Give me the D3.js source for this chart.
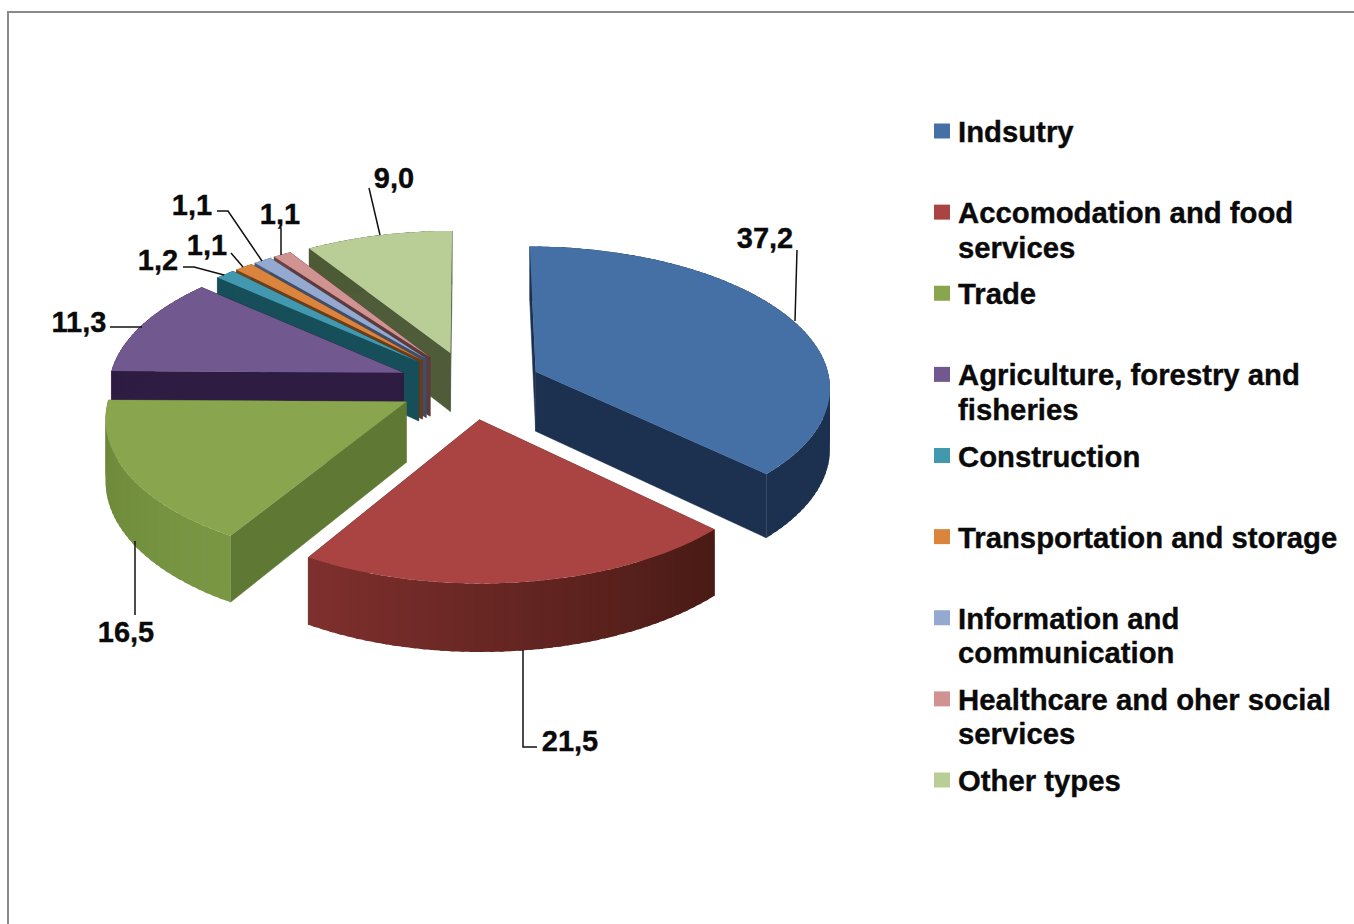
<!DOCTYPE html>
<html>
<head>
<meta charset="utf-8">
<script src="https://cdn.jsdelivr.net/npm/d3@7"></script>
<style>
  html, body { margin: 0; padding: 0; background: #fff; }
  svg { display: block; }
  text { font-family: "Liberation Sans", Arial, sans-serif; font-weight: bold; fill: #0a0a0a; stroke: #0a0a0a; stroke-width: 0.35px; }
</style>
</head>
<body>
<svg id="chart" width="1354" height="924"></svg>
<script>
const categories = ["Indsutry", "Accomodation and food services", "Trade", "Agriculture, forestry and fisheries",
  "Construction", "Transportation and storage", "Information and communication", "Healthcare and oher social services", "Other types"];
const values = [37.2, 21.5, 16.5, 11.3, 1.2, 1.1, 1.1, 1.1, 9.0];
const valueLabels = ["37,2", "21,5", "16,5", "11,3", "1,2", "1,1", "1,1", "1,1", "9,0"];

const topColors = ["#4470a6", "#aa4442", "#89a54e", "#71588f", "#4198af", "#db843d", "#93a9cf", "#d19392", "#b9cd96"];
const wallLeft = ["#1c3050", "#7f302e", "#6a8638", "#2e1c42", "#164e5a", "#7a4418", "#4a5a78", "#6d4342", "#4d5a36"];
const wallRight = ["#1c3050", "#491a15", "#7a9844", "#2e1c42", "#164e5a", "#7a4418", "#4a5a78", "#6d4342", "#4d5a36"];
const sideColors = ["#1c3050", "#5a1f1b", "#5f7833", "#2e1c42", "#164e5a", "#6b3c16", "#3f4e6a", "#5e3a3a", "#4f5c39"];

// label centre and leader polyline for each slice
const labelCenters = [[765, 238], [570, 741], [126, 632], [79, 322], [158, 260], [207, 245], [192, 205], [280, 214], [394, 178]];
const leaders = [
  [[797, 250], [795, 321]],
  [[537, 747], [523, 747], [523, 650]],
  [[135, 615], [135, 541]],
  [[110, 327], [142, 327]],
  [[183, 267], [194, 267], [224, 275]],
  [[231, 253], [243, 267]],
  [[217, 211], [228, 211], [262, 261]],
  [[281, 228], [281, 255]],
  [[369, 188], [380, 235]]
];

const svg = d3.select("#chart");

// frame
svg.append("path")
  .attr("d", "M8,924V12H1354")
  .attr("fill", "none")
  .attr("stroke", "#8a8a8a")
  .attr("stroke-width", 2);

const cx = 470, cy = 385,
      radius = 295, explode = 72, depth = 60,
      tilt = 0.475, focal = 2970;

// model x,y on the pie plane, z below it -> screen
function project(x, y, z) {
  const s = focal / (focal + y);
  return [cx + x * s, cy - tilt * y * s + z * s];
}

const pie = d3.pie().sort(null).value(d => d)
  .startAngle(0).endAngle(2 * Math.PI);
const arcs = pie(values);
const line = d3.line();

arcs.forEach((d, i) => {
  d.index = i;
  d.mid = (d.startAngle + d.endAngle) / 2;
  d.ox = explode * Math.sin(d.mid);
  d.oy = explode * Math.cos(d.mid);
});

function rimPoint(d, a, z) {
  return project(d.ox + radius * Math.sin(a), d.oy + radius * Math.cos(a), z);
}
function anglesOf(d) {
  const n = Math.max(2, Math.ceil((d.endAngle - d.startAngle) / 0.03));
  return d3.range(n + 1).map(k => d.startAngle + (d.endAngle - d.startAngle) * k / n);
}

const g = svg.append("g");

// back slices first
const order = arcs.slice().sort((a, b) => b.oy - a.oy);

order.forEach(d => {
  const i = d.index;
  const apexTop = project(d.ox, d.oy, 0);
  const apexBottom = project(d.ox, d.oy, depth);
  const slice = g.append("g");

  // radial walls
  [d.startAngle, d.endAngle].forEach(a => {
    slice.append("path")
      .attr("d", line([apexTop, rimPoint(d, a, 0), rimPoint(d, a, depth), apexBottom]) + "Z")
      .attr("fill", sideColors[i])
      .attr("stroke", sideColors[i])
      .attr("stroke-width", 0.5);
  });

  // outer wall, as strips so the shading runs along it. Each strip overlaps
  // the next one so no seams show
  const angles = anglesOf(d);
  const shade = d3.scaleLinear()
    .domain([d.startAngle, d.endAngle])
    .range(Math.cos(d.mid) < 0 ? [wallRight[i], wallLeft[i]] : [wallLeft[i], wallRight[i]]);
  const step = angles[1] - angles[0];
  d3.pairs(angles).forEach(([a0, a1]) => {
    const a2 = Math.min(a1 + step * 0.5, d.endAngle);
    slice.append("path")
      .attr("d", line([rimPoint(d, a0, 0), rimPoint(d, a2, 0), rimPoint(d, a2, depth), rimPoint(d, a0, depth)]) + "Z")
      .attr("fill", shade((a0 + a1) / 2));
  });

  // top face
  slice.append("path")
    .attr("d", line([apexTop].concat(angles.map(a => rimPoint(d, a, 0)))) + "Z")
    .attr("fill", topColors[i]);
});

// leaders and value labels
svg.append("g").selectAll("path")
  .data(leaders)
  .join("path")
  .attr("d", d => line(d))
  .attr("fill", "none")
  .attr("stroke", "#111")
  .attr("stroke-width", 1.5);

svg.append("g").selectAll("text")
  .data(valueLabels)
  .join("text")
  .attr("x", (d, i) => labelCenters[i][0])
  .attr("y", (d, i) => labelCenters[i][1])
  .attr("dy", "0.36em")
  .attr("text-anchor", "middle")
  .style("font-size", "29px")
  .text(d => d);

// legend
const legendLines = [["Indsutry"], ["Accomodation and food", "services"], ["Trade"], ["Agriculture, forestry and", "fisheries"],
  ["Construction"], ["Transportation and storage"], ["Information and", "communication"], ["Healthcare and oher social", "services"], ["Other types"]];

const legendY = d3.scalePoint().domain(categories).range([131.5, 780.5]);

const legend = svg.append("g").selectAll("g")
  .data(categories)
  .join("g")
  .attr("transform", d => `translate(934,${legendY(d)})`);

legend.append("rect")
  .attr("x", 0)
  .attr("y", -8)
  .attr("width", 16)
  .attr("height", 15)
  .attr("fill", (d, i) => topColors[i]);

legend.each(function (d, i) {
  d3.select(this).selectAll("text")
    .data(legendLines[i])
    .join("text")
    .attr("x", 24)
    .attr("y", (t, k) => k * 34.5)
    .attr("dy", "0.36em")
    .style("font-size", "29.3px")
    .text(t => t);
});
</script>
</body>
</html>
